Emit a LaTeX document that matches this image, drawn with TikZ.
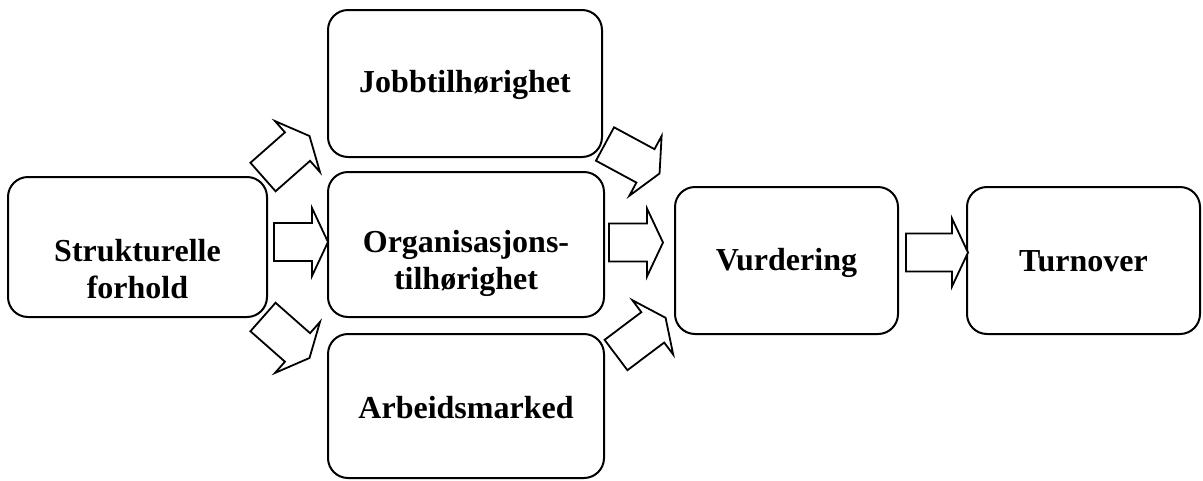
\documentclass[tikz,border=0pt]{standalone}
\usepackage{fontspec}
\setmainfont{Liberation Serif}
\usetikzlibrary{positioning}
\usetikzlibrary{calc}

% hollow block arrow: tail point, angle, length
\newcommand{\blockarrow}[3]{%
  \draw[arrowbox, shift={#1}, rotate=#2]
    (0,-19) -- (#3-16,-19) -- (#3-16,-34) -- (#3,0) -- (#3-16,34) -- (#3-16,19) -- (0,19) -- cycle;}

\begin{document}
\begin{tikzpicture}[x=1pt, y=-1pt,
    box/.style={draw, line width=2pt, rounded corners=20pt, inner sep=0pt},
    boxtext/.style={font=\fontsize{32}{37}\selectfont\bfseries, align=center, inner sep=0pt},
    arrowbox/.style={draw, line width=1.8pt, line join=miter, fill=white}]
  \useasboundingbox (0,0) rectangle (1203,480);

  % boxes
  \node[box, minimum width=259, minimum height=140] (struk) at (137.5,247) {};
  \node[box, minimum width=274, minimum height=147] (jobb) at (465,83.5) {};
  \node[box, minimum width=276, minimum height=145] (org) at (466,244.5) {};
  \node[box, minimum width=276, minimum height=144] (arb) at (466,406) {};
  \node[box, minimum width=223, minimum height=147] (vurd) at (786.5,260.5) {};
  \node[box, minimum width=233, minimum height=147] (turn) at (1083.5,260.5) {};

  % texts
  \node[boxtext] (struk-t) at (137.5,269) {Strukturelle\\forhold};
  \node[boxtext] (jobb-t) at (465,85) {Jobbtilhørighet};
  \node[boxtext] (org-t) at (466,263) {Organisasjons-\\tilhørighet};
  \node[boxtext] (arb-t) at (466,408) {Arbeidsmarked};
  \node[boxtext] (vurd-t) at (786.5,263) {Vurdering};
  \node[boxtext] (turn-t) at (1083.5,261) {Turnover};

  % arrows
  \blockarrow{($(struk.north east)+(-5,1)$)}{41.4}{62}
  \blockarrow{($(struk.east)+(6,-5)$)}{0}{54}
  \blockarrow{($(struk.south east)+(-5,-1)$)}{-41.4}{62}
  \blockarrow{($(jobb.south east)+(2,-14)$)}{-28.4}{62}
  \blockarrow{($(org.east)+(4,-2)$)}{0}{54}
  \blockarrow{($(arb.north east)+(11,22)$)}{36.9}{62}
  \blockarrow{($(vurd.east)+(7,-8)$)}{0}{62}
\end{tikzpicture}
\end{document}
